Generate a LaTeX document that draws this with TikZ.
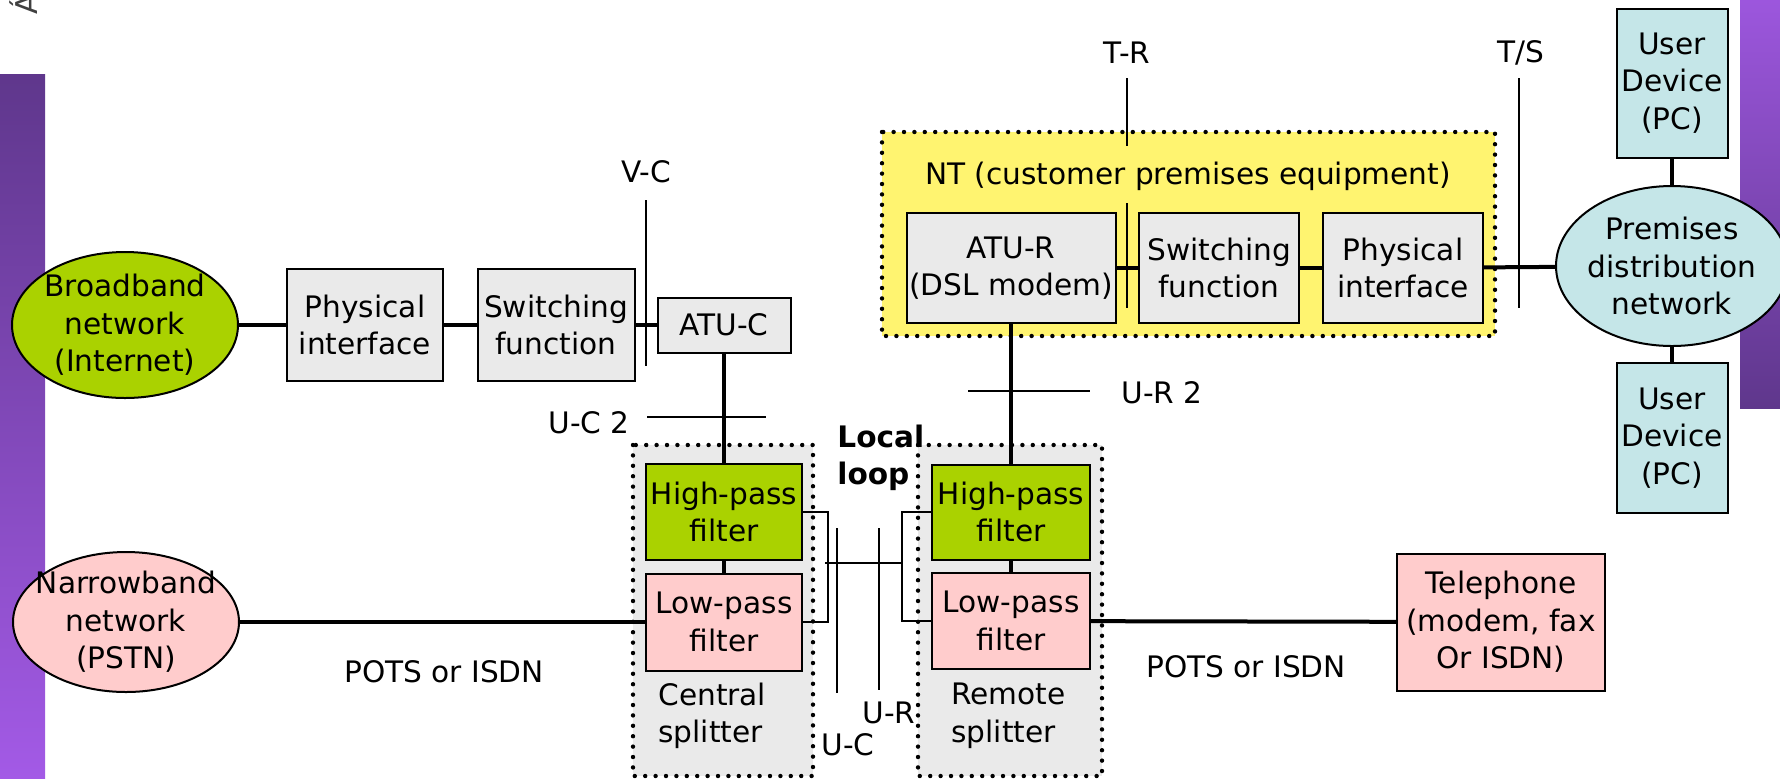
\documentclass[tikz,border=0pt]{standalone}
\usepackage{fontspec}
\setmainfont{DejaVu Sans}
\usetikzlibrary{shapes.geometric, positioning}
\definecolor{dslGray}{RGB}{234,234,234}
\definecolor{dslGreen}{RGB}{170,210,0}
\definecolor{dslPink}{RGB}{255,204,204}
\definecolor{dslYellow}{RGB}{255,244,112}
\definecolor{dslCyan}{RGB}{197,230,232}
\definecolor{barDark}{RGB}{95,55,140}
\definecolor{barLight}{RGB}{163,90,230}

\begin{document}
\begin{tikzpicture}[x=0.5pt, y=-0.5pt,
    every node/.style={font=\fontsize{14.8}{18.8}\selectfont, align=center},
    wh/.style 2 args={minimum width={#1*0.5pt}, minimum height={#2*0.5pt}},
    unit/.style={draw, line width=1pt, fill=dslGray, inner sep=0.5pt},
    cloud/.style={ellipse, draw, line width=1pt, inner sep=-12pt},
    link/.style={line width=2pt},
    refline/.style={line width=1pt},
    dotframe/.style={line width=2.2pt, dash pattern=on 0pt off 5.2pt, line cap=round}]

  \useasboundingbox (0,0) rectangle (1780,778);

  % Slide bars
  \shade[top color=barDark, bottom color=barLight] (0,74) rectangle (45,778);
  \shade[top color=barLight!90!barDark, bottom color=barDark] (1740,0) rectangle (1780,408);
  \node[rotate=90, inner sep=0pt, text=black!75, font=\fontsize{15}{15}\selectfont] (cut) at (24,4) {Á};

  % Frames
  \fill[dslYellow] (882,132) rectangle (1495,336);
  \draw[dotframe] (882,132) rectangle (1495,336);
  \foreach \xa/\xb in {633/813, 918/1102} {
    \fill[dslGray] (\xa,445) rectangle (\xb,776);
    \draw[dotframe] (\xa,445) rectangle (\xb,776);
  }

  % Central office side
  \node[cloud, fill=dslGreen, wh={226}{146}] (bb) at (125,325) {Broadband\\network\\(Internet)};
  \node[unit, wh={156}{112}] (phy1) at (365,325) {Physical\\interface};
  \node[unit, wh={157}{112}] (sw1) at (556,325) {Switching\\function};
  \node[unit, wh={133}{55}] (atuc) at (724,325) {ATU-C};
  \node[unit, fill=dslGreen, wh={156}{96}] (hp1) at (724,512) {High-pass\\filter};
  \node[unit, fill=dslPink, wh={156}{97}] (lp1) at (724,622) {Low-pass\\filter};
  \node[cloud, fill=dslPink, wh={226}{140}] (nb) at (126,622) {Narrowband\\network\\(PSTN)};

  % Customer side
  \node[unit, fill=dslGreen, wh={158}{95}] (hp2) at (1011,512) {High-pass\\filter};
  \node[unit, fill=dslPink, wh={158}{96}] (lp2) at (1011,621) {Low-pass\\filter};
  \node[unit, fill=dslPink, wh={208}{137}] (tel) at (1501,622) {Telephone\\(modem, fax\\Or ISDN)};
  \node[unit, wh={209}{110}] (atur) at (1011,268) {ATU-R\\(DSL modem)};
  \node[unit, wh={160}{110}] (sw2) at (1219,268) {Switching\\function};
  \node[unit, wh={160}{110}] (phy2) at (1403,268) {Physical\\interface};
  \node[cloud, fill=dslCyan, wh={232}{160}] (pd) at (1672,266) {Premises\\distribution\\network};
  \node[unit, fill=dslCyan, wh={111}{149}] (ud1) at (1672,83) {User\\Device\\(PC)};
  \node[unit, fill=dslCyan, wh={111}{150}] (ud2) at (1672,438) {User\\Device\\(PC)};

  % Links
  \draw[link] (bb) -- (phy1);
  \draw[link] (phy1) -- (sw1);
  \draw[link] (sw1) -- (atuc);
  \draw[link] (atuc) -- (hp1);
  \draw[link] (hp1) -- (lp1);
  \draw[link] (nb) -- (lp1);
  \draw[link] (lp2) -- (tel);
  \draw[link] (hp2) -- (lp2);
  \draw[link] (hp2) -- (atur);
  \draw[link] (atur) -- (sw2);
  \draw[link] (sw2) -- (phy2);
  \draw[link] (phy2) -- (pd);
  \draw[link] (pd) -- (ud1);
  \draw[link] (pd) -- (ud2);

  % Splitter taps and local loop
  \coordinate (lbr) at (825,563);
  \coordinate (rbr) at (902,563);
  \draw[refline] (hp1.east) -- ++(25,0) |- (lp1.east);
  \draw[refline] (hp2.west) -- ++(-29,0) |- (lp2.west);
  \draw[refline] (lbr) -- (rbr);

  % Reference points
  \draw[refline] (646,200) -- (646,366);
  \draw[refline] (647,417) -- (766,417);
  \draw[refline] (968,391) -- (1090,391);
  \draw[refline] (837,528) -- (837,693);
  \draw[refline] (879,528) -- (879,690);
  \draw[refline] (1127,78) -- (1127,146);
  \draw[refline] (1127,203) -- (1127,308);
  \draw[refline] (1519,78) -- (1519,308);

  % Labels
  \node (vc) at (646,172) {V-C};
  \node (uc2) at (589,423) {U-C 2};
  \node (tr) at (1127,53) {T-R};
  \node (ts) at (1521,53) {T/S};
  \node[anchor=west, inner sep=0pt] (ur2) at (1121,393) {U-R 2};
  \node (ur) at (889,713) {U-R};
  \node (uc) at (848,745) {U-C};
  \node (pots1) at (444,672) {POTS or ISDN};
  \node (pots2) at (1246,667) {POTS or ISDN};
  \node (nt) at (1188,176) {NT (customer premises equipment)};
  \node[anchor=west, align=left, inner sep=0pt, font=\fontsize{14.8}{18.8}\selectfont\bfseries] (loop) at (837,458) {Local\\loop};
  \node[anchor=west, align=left, inner sep=0pt] (csp) at (658,716) {Central\\splitter};
  \node[anchor=west, align=left, inner sep=0pt] (rsp) at (951,716) {Remote\\splitter};
\end{tikzpicture}
\end{document}
